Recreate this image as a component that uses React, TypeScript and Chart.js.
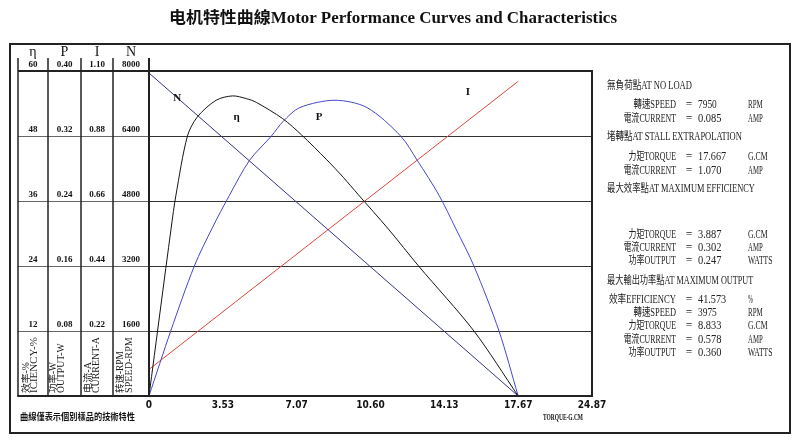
import React, { useEffect, useRef } from "react";
import { Chart, registerables } from "chart.js";

Chart.register(...registerables);

// ---------- data ----------
const titleText = "电机特性曲線Motor Performance Curves and Characteristics";

const xTickValues = [0, 3.533, 7.067, 10.6, 14.133, 17.667, 21.2];
const xTickLabels = ["0", "3.53", "7.07", "10.60", "14.13", "17.67", "24.87"];

const etaTickValues = [0, 12, 24, 36, 48, 60];
const etaTickLabels = ["", "12", "24", "36", "48", "60"];
const powerTickValues = [0, 0.08, 0.16, 0.24, 0.32, 0.4];
const powerTickLabels = ["", "0.08", "0.16", "0.24", "0.32", "0.40"];
const currentTickValues = [0, 0.22, 0.44, 0.66, 0.88, 1.1];
const currentTickLabels = ["", "0.22", "0.44", "0.66", "0.88", "1.10"];
const speedTickValues = [0, 1600, 3200, 4800, 6400, 8000];
const speedTickLabels = ["", "1600", "3200", "4800", "6400", "8000"];

// efficiency curve (torque g.cm -> %)
const etaTorque = [0, 1.06, 1.29, 1.84, 2.31, 3.21, 4.0, 4.66, 5.14, 6.4, 7.3, 8.51, 9.29, 10.01, 11.46, 12.9, 15.55, 17.667];
const etaValues = [0, 31, 37.1, 48, 51.5, 54.6, 55.4, 54.9, 54.2, 51.2, 48.2, 43.6, 40.4, 37.2, 30.8, 24, 12, 0];

// output power curve (torque -> W)
const powerTorque = [0, 1.04, 2.17, 3.03, 3.85, 4.81, 5.86, 6.42, 7.22, 8.9, 10.43, 12.04, 12.84, 13.88, 14.68, 15.55, 16.75, 17.667];
const powerValues = [0, 0.08, 0.16, 0.207, 0.247, 0.29, 0.32, 0.338, 0.355, 0.364, 0.355, 0.32, 0.29, 0.247, 0.206, 0.16, 0.08, 0];

// straight lines: current and speed
const lineTorque = [0, 17.667];
const currentValues = [0.09, 1.065];
const speedValues = [7950, 0];

// curve name labels
const curveLabelText = ["N", "η", "P", "I"];
const curveLabelTorque = [1.35, 4.19, 8.14, 15.26];
const curveLabelValue = [7335, 51.5, 0.343, 1.029];
const curveLabelAxis = ["yN", "yEta", "yP", "yI"];

const headerLetters = ["η", "P", "I", "N"];
const captionsCn = ["效率-%", "功率-W", "电流-A", "转速-RPM"];
const captionsEn = ["ICIENCY-%", "OUTPUT-W", "CURRENT-A", "SPEED-RPM"];
const footerText = "曲線僅表示個別樣品的技術特性";
const xAxisTitle = "TORQUE-G.CM";

const panelHeaders = [
  "無負荷點AT NO LOAD",
  "堵轉點AT STALL EXTRAPOLATION",
  "最大效率點AT MAXIMUM EFFICIENCY",
  "最大輸出功率點AT MAXIMUM OUTPUT",
];
const noLoadRows = [
  ["轉速SPEED", "7950", "RPM"],
  ["電流CURRENT", "0.085", "AMP"],
];
const stallRows = [
  ["力矩TORQUE", "17.667", "G.CM"],
  ["電流CURRENT", "1.070", "AMP"],
];
const maxEffRows = [
  ["力矩TORQUE", "3.887", "G.CM"],
  ["電流CURRENT", "0.302", "AMP"],
  ["功率OUTPUT", "0.247", "WATTS"],
];
const maxOutRows = [
  ["效率EFFICIENCY", "41.573", "%"],
  ["轉速SPEED", "3975", "RPM"],
  ["力矩TORQUE", "8.833", "G.CM"],
  ["電流CURRENT", "0.578", "AMP"],
  ["功率OUTPUT", "0.360", "WATTS"],
];

// ---------- helpers ----------
const isWide = (ch: string) => /[\u2E80-\u9FFF\uF900-\uFAFF\uFF00-\uFF60]/.test(ch);
function simWidth(s: string, wide: number, narrow: number) {
  let w = 0;
  for (const ch of s) w += isWide(ch) ? wide : narrow;
  return w;
}

const serif = "'Liberation Serif', 'Noto Sans CJK TC', serif";
const serifSC = "'Liberation Serif', 'Noto Sans CJK SC', serif";

function yAxis(values: number[], labels: string[], weight: number, width: number, grid: boolean) {
  return {
    type: "linear",
    position: "left",
    weight,
    min: values[0],
    max: values[values.length - 1],
    afterBuildTicks: (s: any) => {
      s.ticks = values.map((v) => ({ value: v }));
    },
    afterFit: (s: any) => {
      s.width = width;
      const sizes = s._getLabelSizes ? s._getLabelSizes() : null;
      const widest = sizes ? sizes.widest.width : 0;
      s.options.ticks.padding = Math.max(0, (width - widest) / 2);
    },
    grid: grid
      ? { display: true, drawTicks: false, color: "#333", lineWidth: 1 }
      : { display: false, drawTicks: false },
    border: { display: false },
    ticks: {
      callback: (_v: any, i: number) => labels[i],
      crossAlign: "center",
      labelOffset: -6,
      autoSkip: false,
      padding: 0,
      color: "#111",
      font: { family: "'Liberation Serif', serif", size: 9, weight: "bold" },
    },
  };
}

const framePlugin = {
  id: "frame",
  afterDraw(chart: any) {
    const { ctx, chartArea: a, scales } = chart;
    const sE = scales.yEta, sP = scales.yP, sI = scales.yI;
    const line = (x1: number, y1: number, x2: number, y2: number) => {
      ctx.beginPath();
      ctx.moveTo(x1, y1);
      ctx.lineTo(x2, y2);
      ctx.stroke();
    };
    const tableTop = a.top - 13;
    ctx.save();
    ctx.strokeStyle = "#666";
    ctx.lineWidth = 1;
    for (const v of etaTickValues) {
      if (v === etaTickValues[0] || v === etaTickValues[etaTickValues.length - 1]) continue;
      const y = Math.round(sE.getPixelForValue(v)) + 0.5;
      line(sE.left, y, a.left, y);
    }
    ctx.strokeStyle = "#222";
    ctx.lineWidth = 1.5;
    for (const x of [sE.left, sE.right, sP.right, sI.right]) line(x, tableTop, x, a.bottom);
    ctx.lineWidth = 2;
    line(a.left, tableTop, a.left, a.bottom + 1);
    line(sE.left, a.top, a.right + 1, a.top);
    line(a.right, a.top, a.right, a.bottom + 1);
    line(sE.left - 0.75, a.bottom, a.right + 1, a.bottom);
    ctx.strokeRect(10, 44, 780, 389);
    ctx.restore();
  },
  afterDatasetsDraw(chart: any) {
    const { ctx, scales } = chart;
    ctx.save();
    ctx.font = "bold 11px 'Liberation Serif', serif";
    ctx.fillStyle = "#111";
    ctx.textAlign = "center";
    ctx.textBaseline = "middle";
    curveLabelText.forEach((t, i) => {
      const x = scales.x.getPixelForValue(curveLabelTorque[i]);
      const y = scales[curveLabelAxis[i]].getPixelForValue(curveLabelValue[i]);
      ctx.fillText(t, x, y);
    });
    ctx.restore();
  },
};

function PanelText() {
  const fs = 11.5;
  const items: any[] = [];
  const labelRight = 676, eqX = 689, valX = 698, unitX = 748, headX = 607;
  const head = (t: string, y: number, k: string) =>
    items.push(
      <text key={k} x={headX} y={y} fontSize={fs} fontFamily={serif} fill="#222" dominantBaseline="central"
        textLength={simWidth(t, 9, 4.9)} lengthAdjust="spacingAndGlyphs">{t}</text>
    );
  const row = (r: string[], y: number, k: string) => {
    items.push(
      <text key={k + "l"} x={labelRight} y={y} textAnchor="end" fontSize={fs} fontFamily={serif} fill="#222"
        dominantBaseline="central" textLength={simWidth(r[0], 9, 4.9)} lengthAdjust="spacingAndGlyphs">{r[0]}</text>,
      <text key={k + "e"} x={eqX} y={y} textAnchor="middle" fontSize={fs} fontFamily={serif} fill="#222"
        dominantBaseline="central">=</text>,
      <text key={k + "v"} x={valX} y={y} fontSize={fs} fontFamily={serif} fill="#222" dominantBaseline="central"
        textLength={simWidth(r[1], 9, 4.7)} lengthAdjust="spacingAndGlyphs">{r[1]}</text>,
      <text key={k + "u"} x={unitX} y={y} fontSize={fs} fontFamily={serif} fill="#222" dominantBaseline="central"
        textLength={simWidth(r[2], 9, 4.9)} lengthAdjust="spacingAndGlyphs">{r[2]}</text>
    );
  };
  head(panelHeaders[0], 85, "h0");
  noLoadRows.forEach((r, i) => row(r, 104 + i * 13.5, "a" + i));
  head(panelHeaders[1], 136, "h1");
  stallRows.forEach((r, i) => row(r, 156 + i * 13.5, "b" + i));
  head(panelHeaders[2], 188, "h2");
  maxEffRows.forEach((r, i) => row(r, 234 + i * 13.2, "c" + i));
  head(panelHeaders[3], 280, "h3");
  maxOutRows.forEach((r, i) => row(r, 299 + i * 13.2, "d" + i));
  return <g>{items}</g>;
}

export default function App() {
  const ref = useRef<HTMLCanvasElement>(null);

  useEffect(() => {
    const toPts = (xs: number[], ys: number[]) => xs.map((x, i) => ({ x, y: ys[i] }));
    const chart = new Chart(ref.current as HTMLCanvasElement, {
      type: "scatter",
      data: {
        datasets: [
          { label: "N", data: toPts(lineTorque, speedValues), yAxisID: "yN", showLine: true, borderColor: "#33338a", borderWidth: 1, pointRadius: 0 },
          { label: "η", data: toPts(etaTorque, etaValues), yAxisID: "yEta", showLine: true, borderColor: "#151515", borderWidth: 1, pointRadius: 0, tension: 0.3 },
          { label: "P", data: toPts(powerTorque, powerValues), yAxisID: "yP", showLine: true, borderColor: "#4545cc", borderWidth: 1, pointRadius: 0, tension: 0.3 },
          { label: "I", data: toPts(lineTorque, currentValues), yAxisID: "yI", showLine: true, borderColor: "#e0453c", borderWidth: 1, pointRadius: 0 },
        ],
      } as any,
      options: {
        responsive: false,
        maintainAspectRatio: false,
        devicePixelRatio: 1,
        animation: false,
        layout: { padding: { left: 18, right: 208, top: 71, bottom: 35 } },
        plugins: { legend: { display: false }, tooltip: { enabled: false }, title: { display: false } },
        scales: {
          x: {
            type: "linear",
            min: xTickValues[0],
            max: xTickValues[xTickValues.length - 1],
            afterBuildTicks: (s: any) => {
              s.ticks = xTickValues.map((v) => ({ value: v }));
            },
            afterFit: (s: any) => {
              s.height = 14;
            },
            grid: { display: false, drawTicks: false },
            border: { display: false },
            ticks: {
              callback: (_v: any, i: number) => xTickLabels[i],
              autoSkip: false,
              maxRotation: 0,
              padding: 3,
              color: "#111",
              font: { family: "'Liberation Sans Narrow', 'DejaVu Sans Condensed', sans-serif", size: 10, weight: "bold" },
            },
          },
          yEta: yAxis(etaTickValues, etaTickLabels, 4, 30, true),
          yP: yAxis(powerTickValues, powerTickLabels, 3, 33, false),
          yI: yAxis(currentTickValues, currentTickLabels, 2, 32, false),
          yN: yAxis(speedTickValues, speedTickLabels, 1, 36, false),
        } as any,
      },
      plugins: [framePlugin as any],
    });
    return () => chart.destroy();
  }, []);

  const colCenters = [33, 64.5, 97, 131];
  const capCnX = [26, 53, 88, 119.5];
  const capEnX = [34, 60.5, 96, 129];

  return (
    <div style={{ position: "absolute", left: 0, top: 0, width: 800, height: 445, background: "#fff" }}>
      <canvas ref={ref} width={800} height={445} style={{ position: "absolute", left: 0, top: 0, width: 800, height: 445 }} />
      <svg width={800} height={445} style={{ position: "absolute", left: 0, top: 0, pointerEvents: "none" }}>
        <text x={169} y={17} fontSize={16} fontWeight={600} fontFamily={serifSC} fill="#111" dominantBaseline="central"
          textLength={simWidth(titleText, 16, 8)} lengthAdjust="spacingAndGlyphs">{titleText}</text>
        {headerLetters.map((t, i) => (
          <text key={"hl" + i} x={colCenters[i]} y={51} fontSize={14} fontFamily={serif} fill="#111"
            textAnchor="middle" dominantBaseline="central">{t}</text>
        ))}
        {captionsCn.map((t, i) => (
          <text key={"cc" + i} transform={`translate(${capCnX[i]},393) rotate(-90)`} x={0} y={0} fontSize={9.5}
            fontFamily={serifSC} fill="#222" dominantBaseline="central"
            textLength={simWidth(t, 10, 5.5)} lengthAdjust="spacingAndGlyphs">{t}</text>
        ))}
        {captionsEn.map((t, i) => (
          <text key={"ce" + i} transform={`translate(${capEnX[i]},393) rotate(-90)`} x={0} y={0} fontSize={9.5}
            fontFamily={serif} fill="#222" dominantBaseline="central"
            textLength={simWidth(t, 10, 6.2)} lengthAdjust="spacingAndGlyphs">{t}</text>
        ))}
        <text x={20} y={417} fontSize={9} fontWeight="bold" fontFamily={serif} fill="#111" dominantBaseline="central"
          textLength={115} lengthAdjust="spacingAndGlyphs">{footerText}</text>
        <text x={543} y={417} fontSize={8} fontWeight="bold" fontFamily={serif} fill="#111" dominantBaseline="central"
          textLength={40} lengthAdjust="spacingAndGlyphs">{xAxisTitle}</text>
        <PanelText />
      </svg>
    </div>
  );
}
